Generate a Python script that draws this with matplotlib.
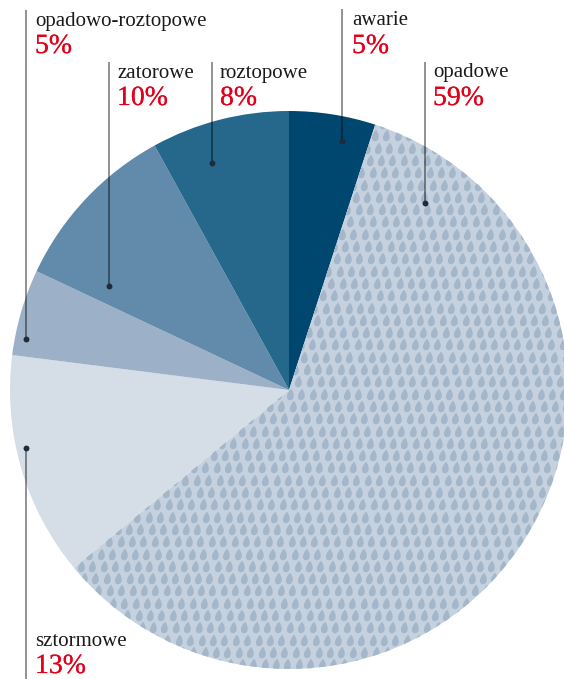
import numpy as np
import matplotlib
matplotlib.use("Agg")
import matplotlib.pyplot as plt
import matplotlib.patheffects as pe
from matplotlib.path import Path
from matplotlib.markers import MarkerStyle

# data
categories = ["awarie", "opadowe", "sztormowe", "opadowo-roztopowe", "zatorowe", "roztopowe"]
shares = [5, 59, 13, 5, 10, 8]

# styles / layout (pixel coords, y from top)
colors = ["#00476f", "#c5d1de", "#d5dde6", "#9cb0c8", "#628aaa", "#26688c"]
drop_color = "#a3b6ca"
red = "#e2001a"
W, H = 564, 679
cx, cy, R = 289, 390, 279

# label x, label baseline, pct baseline, line x, line top, dot y, line bottom
label_pos = {
    "opadowo-roztopowe": (35, 26, 53, 26, 10, 339, None),
    "zatorowe": (117, 78, 105, 109, 62, 286, None),
    "roztopowe": (220, 78, 105, 212, 62, 163, None),
    "awarie": (352, 25, 53, 342, 9, 141, None),
    "opadowe": (433, 77, 105, 425, 62, 203, None),
    "sztormowe": (35, 646, 673, 26, None, 448, 679),
}

fig = plt.figure(figsize=(W / 100, H / 100), dpi=100)
ax = fig.add_axes([0, 0, 1, 1])

def fy(y):
    return H - y

wedges, _ = ax.pie(shares, colors=colors, startangle=90, counterclock=False,
                   center=(cx, fy(cy)), radius=R, frame=True,
                   wedgeprops=dict(linewidth=0))

# droplet pattern on the "opadowe" slice
t = np.linspace(0, 2 * np.pi, 80)
px = np.sin(t) * np.abs(np.sin(t / 2)) ** 0.9 * 0.75
py = np.cos(t)
px = px + 0.2 * (py + 1) / 2 - 0.1
drop = Path(np.column_stack([px, py]))
gx, gy = np.meshgrid(np.arange(-40, 60), np.arange(0, 60))
xs = gx * 11.4 + gy * 3.0
ys = gy * 12.3
sc = ax.scatter(xs.ravel(), fy(ys.ravel()), marker=MarkerStyle(drop), s=68,
                color=drop_color, linewidths=0, zorder=2)
sc.set_clip_path(wedges[1])

# leader lines and labels
for cat, pct in zip(categories, shares):
    lx, lb, pb, x, top, dot, bottom = label_pos[cat]
    if top is not None:
        ax.plot([x, x], [fy(top), fy(dot)], color="black", alpha=0.5, lw=1.2,
                zorder=3, solid_capstyle="butt")
    else:
        ax.plot([x, x], [fy(dot), fy(bottom)], color="black", alpha=0.5, lw=1.2,
                zorder=3, solid_capstyle="butt")
    ax.scatter([x], [fy(dot)], s=18, color="#1f2b38", zorder=4, linewidths=0)
    ax.text(lx, fy(lb), cat, fontsize=15, family="Liberation Serif",
            color="#1a1a1a", va="baseline", ha="left")
    ax.text(lx, fy(pb), f"{pct}%", fontsize=20, family="Liberation Serif",
            color=red, va="baseline", ha="left",
            path_effects=[pe.withStroke(linewidth=0.15, foreground=red)])

ax.set_xlim(0, W)
ax.set_ylim(0, H)
ax.set_aspect("equal")
ax.axis("off")
fig.savefig("out.png", dpi=100)
